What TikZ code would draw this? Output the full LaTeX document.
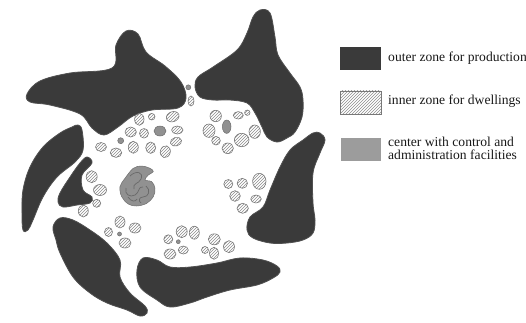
\documentclass[tikz,border=0pt]{standalone}
\usepackage{fontspec}
\setmainfont{Liberation Serif}
\usetikzlibrary{patterns}
\definecolor{prodgray}{RGB}{58,58,58}
\definecolor{prodedge}{RGB}{80,80,80}
\definecolor{hatchcol}{RGB}{140,140,140}
\definecolor{hatchedge}{RGB}{120,120,120}
\definecolor{ctrlgray}{RGB}{145,145,145}
\definecolor{ctrledge}{RGB}{110,110,110}
\definecolor{ctrlline}{RGB}{105,105,105}
\definecolor{legtext}{RGB}{25,25,25}
\begin{document}
\begin{tikzpicture}[x=1pt,y=-1pt,
  prod/.style={fill=prodgray,draw=prodedge,line width=0.8pt},
  dwell/.style={draw=hatchedge,line width=0.6pt,pattern=north east lines,pattern color=hatchcol},
  ctrl/.style={fill=ctrlgray,draw=ctrledge,line width=0.5pt},
  curl/.style={draw=ctrlline,line width=0.7pt},
  legbox/.style={minimum width=40.5pt,minimum height=23.5pt,inner sep=0pt,anchor=north west},
  legtxt/.style={anchor=west,inner sep=0pt,align=left,text=legtext,font=\fontsize{13.6}{13.4}\selectfont}]
\useasboundingbox (0,0) rectangle (526,322);
% production zones
\path[prod] plot[smooth cycle,tension=0.6] coordinates {(27,94) (40,81) (70,73) (112,68) (116,45) (126,31) (138,34) (146,52) (165,66) (181,82) (186,98) (178,108) (152,110) (133,116) (118,127) (104,135) (92,128) (80,114) (50,105) (30,102)};
\path[prod] plot[smooth cycle,tension=0.6] coordinates {(260,10) (270,13) (275,37) (278,55) (290,73) (300,87) (303,100) (302,117) (295,132) (287,138) (277,142) (267,137) (262,127) (255,113) (247,103) (230,100) (213,100) (200,97) (195,87) (198,77) (213,67) (237,50) (247,33) (253,17)};
\path[prod] plot[smooth cycle,tension=0.6] coordinates {(78,125) (82,130) (83,150) (75,162) (57,177) (43,197) (33,220) (28,230) (23,230) (22,213) (23,190) (30,167) (43,147) (60,133) (72,127)};
\path[prod] plot[smooth cycle,tension=0.6] coordinates {(87,157) (92,163) (82,175) (83,190) (92,197) (90,203) (77,205) (63,207) (58,202) (60,193) (70,177) (80,163)};
\path[prod] plot[smooth cycle,tension=0.6] coordinates {(60,218) (53,227) (56,240) (60,253) (73,277) (90,293) (107,303) (127,310) (140,316) (147,313) (145,306) (130,293) (120,277) (120,260) (107,243) (90,230) (73,220)};
\path[prod] plot[smooth cycle,tension=0.6] coordinates {(143,258) (137,270) (140,287) (157,300) (170,307) (190,303) (207,297) (230,290) (257,285) (273,278) (280,272) (277,266) (263,260) (240,258) (217,263) (190,267) (170,267) (157,260)};
\path[prod] plot[smooth cycle,tension=0.6] coordinates {(320,133) (325,140) (320,153) (313,173) (313,203) (315,220) (313,233) (303,240) (287,243) (270,243) (253,238) (247,230) (250,217) (263,207) (270,190) (280,167) (290,150) (303,140) (313,133)};
% dwellings
\foreach \x/\y/\a/\b/\r in {
  139.3/119.3/4.7/6/0, 151.7/116.7/3.3/3.3/0, 172.7/116.7/6.5/5/20, 130.7/132/5.7/5/0,
  144/133.3/4.5/4.8/0, 177.3/130/5.7/4/0, 133.3/147.3/5/6/0, 150.7/147.7/5/5.7/0,
  176/141.7/5.7/4.3/15, 165.3/151.7/5/6/-15, 116/152.7/5.7/4.7/0, 101/147/5.5/4.5/0,
  191/101/3/5/0,
  215.7/116/5.7/5.7/0, 238.3/115.3/5/3.7/0, 247.3/112.7/2.7/2.7/0, 209/130.7/6/6.7/0,
  254.7/131.7/5.7/6.7/0, 241.7/140/7.3/6.7/0, 216/140.7/4.3/4.3/0, 227.7/148.3/5.7/5.3/0,
  228.3/184/4.5/4.5/0, 242.3/183.3/5.2/5/0, 259.3/181.3/6.7/8/0, 235/196/5.3/5.3/0,
  256/199/5.3/4/0, 242.7/208.3/5.7/5/0,
  91.7/176.7/5.5/6/0, 100/190/6.5/5.5/0, 96.7/203.3/4/4/0, 83.3/211/5/6/0,
  120/222/5/6/0, 135/228/6/5/0, 108.5/232/4/4.5/0, 125/243/6/5/0,
  181.7/231.7/5.5/6/0, 194.3/232.7/5/6.5/0, 168.3/239.3/4.5/4.5/0, 183.3/250/5/4/0,
  170/254/6/5/0, 214.3/239.3/6/5.5/0, 229/246.7/5.5/6/0, 205/250/3.5/3.5/0, 214/253.3/4.5/6/0}
  \path[dwell,rotate around={\r:(\x,\y)}] (\x,\y) ellipse [x radius=\a,y radius=\b];
% control facilities
\foreach \x/\y/\a/\b in {160/131/6/5, 226.7/126.7/4.3/6.7, 120.7/140.7/3/3, 119.5/234/2/2, 178.3/241.7/2/2, 188.3/87.3/2.5/2.5}
  \path[ctrl] (\x,\y) ellipse [x radius=\a,y radius=\b];
% center
\path[ctrl] plot[smooth cycle,tension=0.6] coordinates {(125,178.3) (133.3,168.3) (141.7,166) (150,168.3) (153.3,171.7) (148.3,175) (145,180) (151.7,181.7) (155,188.3) (153.3,196.7) (146.7,203.3) (136.7,206) (128.3,204) (121.7,196.7) (120,186.7)};
\draw[curl] (130,176) .. controls (136,170) and (144,172) .. (141,179) .. controls (139,184) and (132,183) .. (134,189);
\draw[curl] (126,188) .. controls (124,194) and (130,198) .. (135,195) .. controls (140,192) and (138,186) .. (143,187);
\draw[curl] (146,186) .. controls (151,190) and (149,197) .. (143,197) .. controls (139,197) and (138,201) .. (141,203);
\draw[curl] (128,197) .. controls (131,202) and (136,202) .. (137,199);
% legend
\node[legbox,fill=prodgray] (b1) at (340,46.5) {};
\node[legbox,draw=hatchedge,line width=0.6pt,pattern=north east lines,pattern color=hatchcol] (b2) at (340,90.5) {};
\node[legbox,fill=ctrlgray!90!white] (b3) at (340.5,137.3) {};
\node[legtxt] (t1) at (388,58) {outer zone for production};
\node[legtxt] (t2) at (388,101.5) {inner zone for dwellings};
\node[legtxt] (t3) at (388,148.5) {center with control and\\administration facilities};
\end{tikzpicture}
\end{document}
